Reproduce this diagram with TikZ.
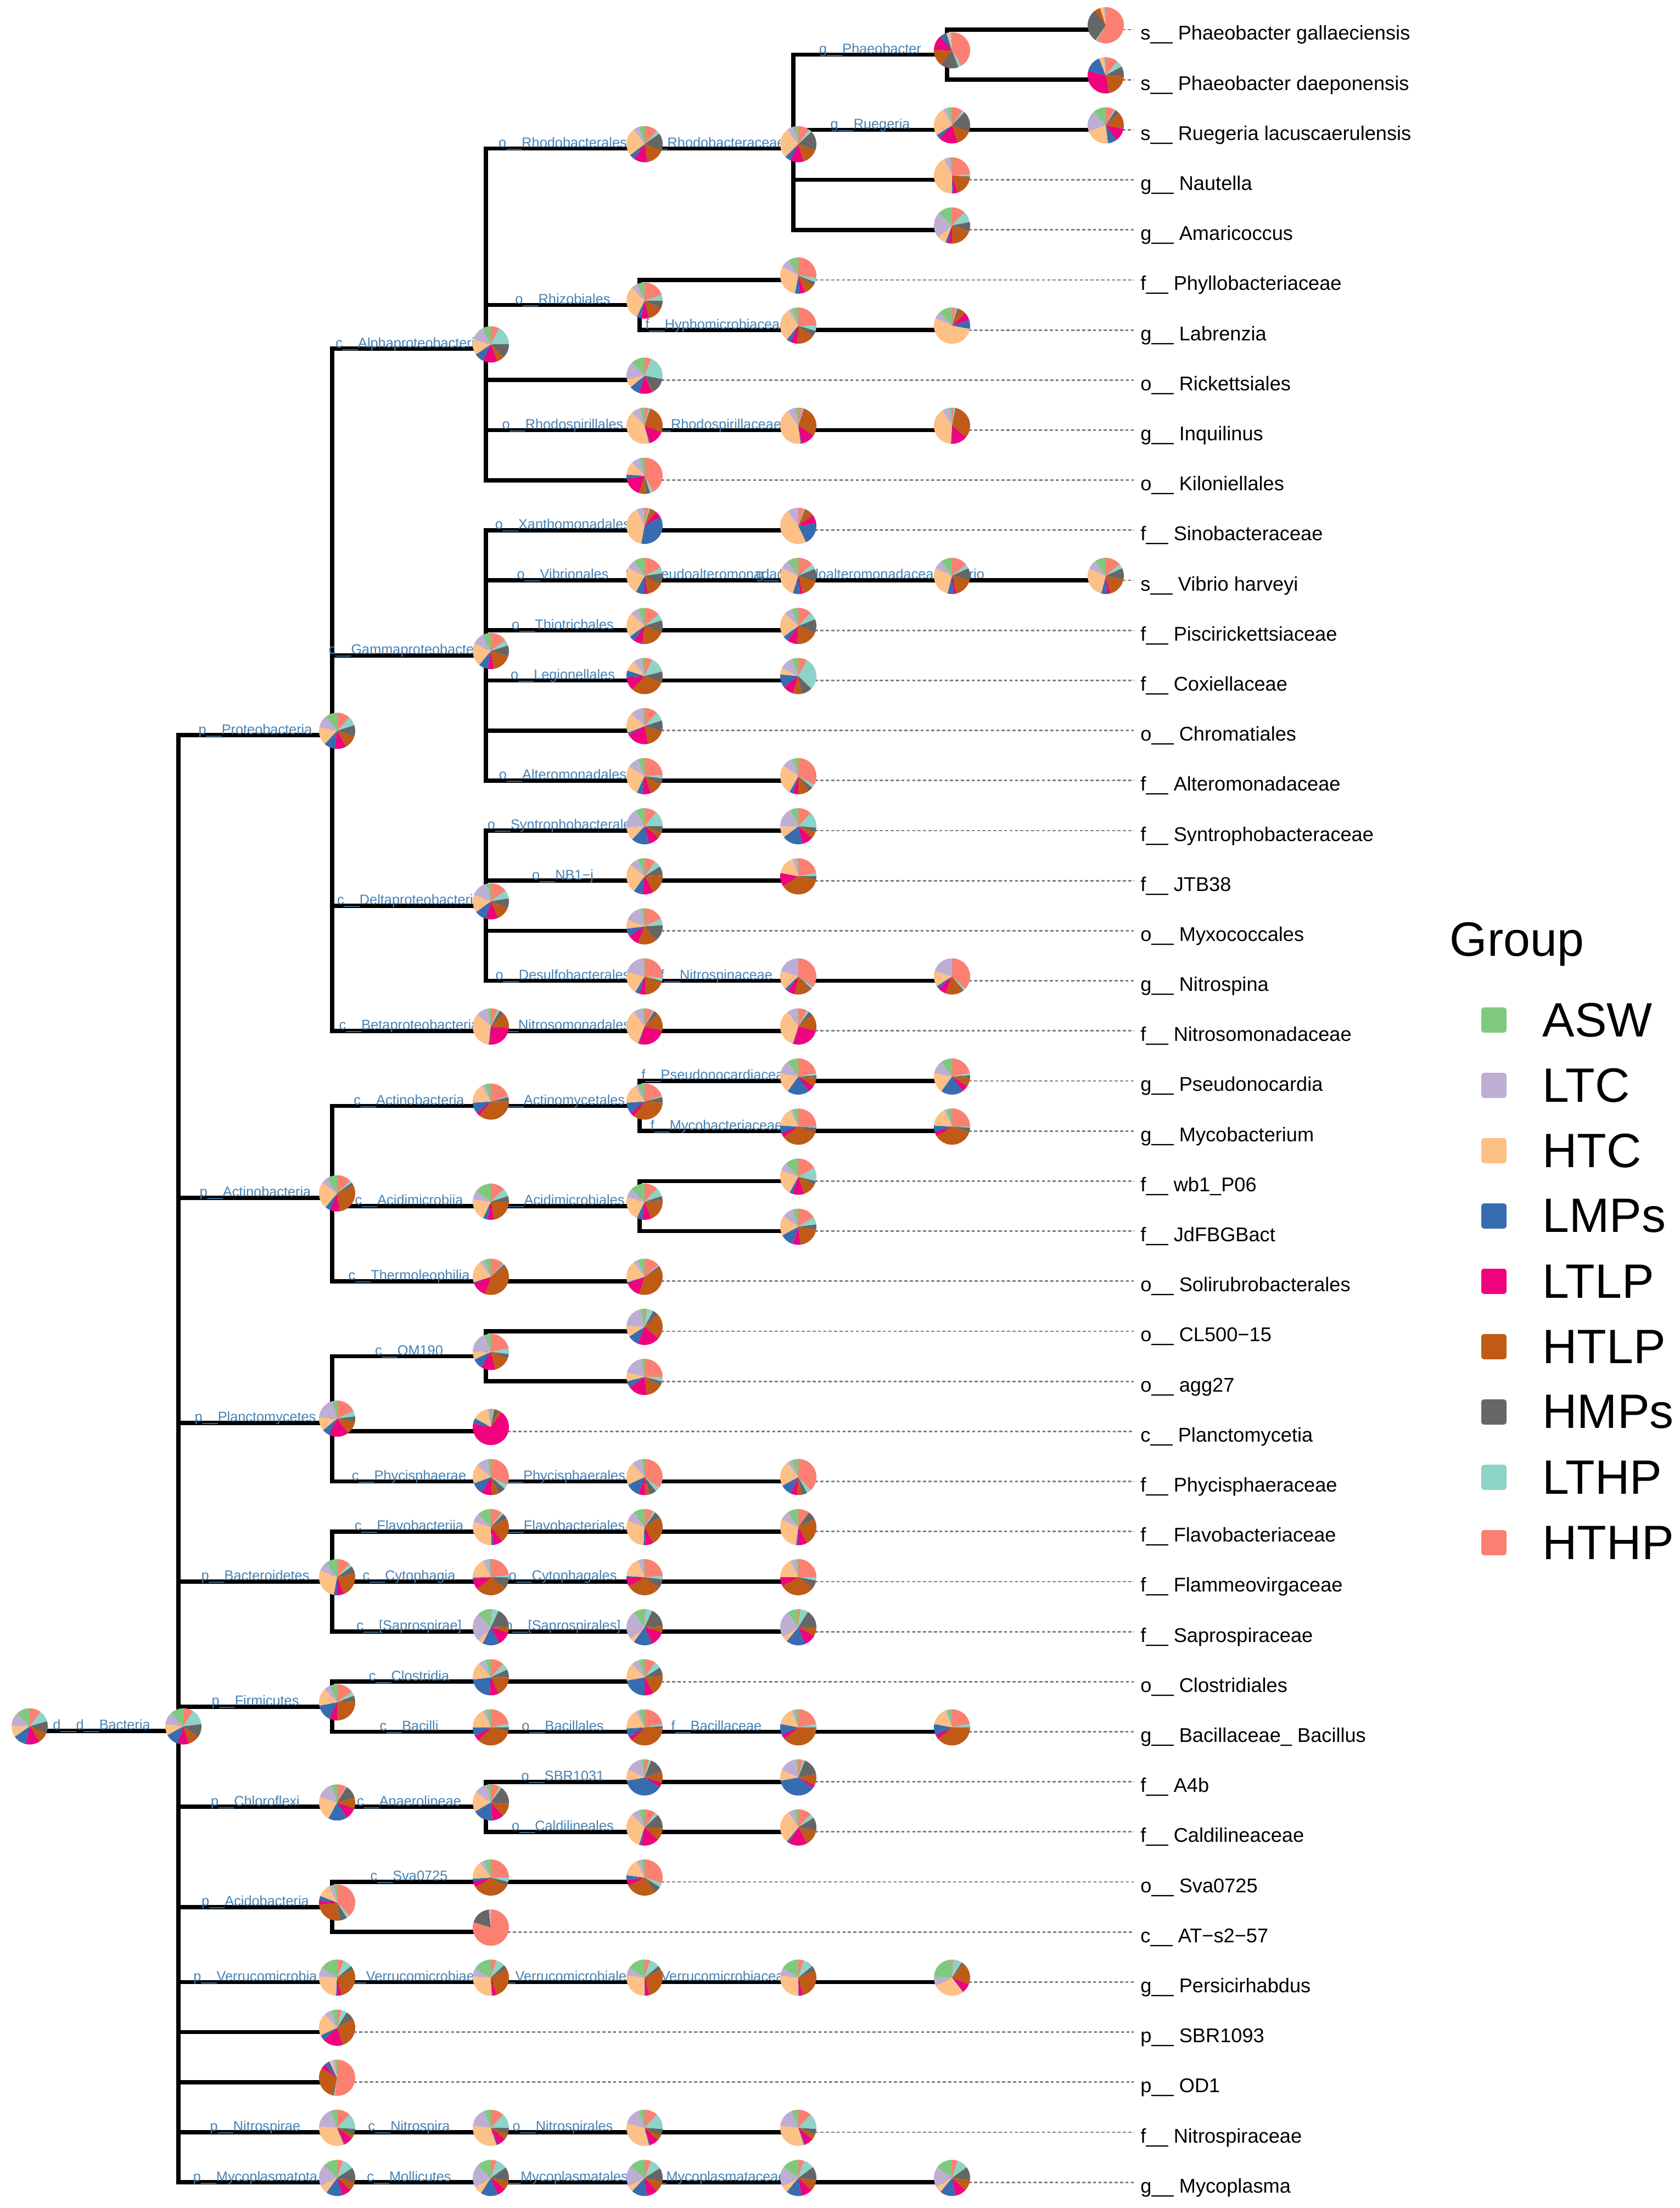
\documentclass[tikz,border=0pt]{standalone}
\usepackage{fontspec}
\setmainfont{Liberation Sans}
\usepackage{xcolor}
\usetikzlibrary{positioning}
\definecolor{asw}{HTML}{7FC97F}
\definecolor{ltc}{HTML}{BEAED4}
\definecolor{htc}{HTML}{FDC086}
\definecolor{lmps}{HTML}{386CB0}
\definecolor{ltlp}{HTML}{F0027F}
\definecolor{htlp}{HTML}{BF5B17}
\definecolor{hmps}{HTML}{666666}
\definecolor{lthp}{HTML}{8DD3C7}
\definecolor{hthp}{HTML}{FB8072}
\definecolor{labblue}{HTML}{4682B4}
\definecolor{tipgray}{HTML}{808080}
% slice order, clockwise from the top
\colorlet{pie1}{hthp}\colorlet{pie2}{lthp}\colorlet{pie3}{hmps}
\colorlet{pie4}{htlp}\colorlet{pie5}{ltlp}\colorlet{pie6}{lmps}
\colorlet{pie7}{htc}\colorlet{pie8}{ltc}\colorlet{pie9}{asw}
\tikzset{
  branch/.style={line width=2.2pt, draw=black},
  blab/.style={pos=0.75, anchor=base, yshift=0.6pt, inner sep=0pt, text=labblue, font=\fontsize{7.2}{8}\selectfont},
  tipline/.style={draw=tipgray, line width=0.8pt, dash pattern=on 1.6pt off 1.2pt},
  tiplab/.style={anchor=base west, xshift=0.11cm, yshift=-0.19cm, inner sep=0pt, font=\fontsize{10.3}{12}\selectfont},
  legkey/.style={minimum size=0.46cm, inner sep=0pt, rounded corners=0.05cm},
  legtext/.style={inner sep=0pt, font=\fontsize{25}{30}\selectfont}
}
% #1 node, #2 HTHP,LTHP,HMPs,HTLP,LTLP,LMPs,HTC,LTC,ASW
\newcommand{\taxpie}[2]{%
  \begin{scope}[shift={(#1)}, xshift=0.09cm, yshift=0.08cm]
    \xdef\pietot{0}
    \foreach \v in {#2} {\pgfmathparse{\pietot+\v}\xdef\pietot{\pgfmathresult}}
    \xdef\pieang{90}
    \foreach \v [count=\i] in {#2} {
      \ifdim \v pt>0pt
        \pgfmathsetmacro{\pienext}{\pieang-360*(\v/\pietot)}
        \fill[pie\i] (0,0) -- (\pieang:0.33) arc[start angle=\pieang, end angle=\pienext, radius=0.33] -- cycle;
        \xdef\pieang{\pienext}
      \fi
    }
  \end{scope}}

\begin{document}
\begin{tikzpicture}
  \useasboundingbox (0,0) rectangle (30.59,-40.22);
  \fill[white] (0,0) rectangle (30.59,-40.22);

  \begin{scope}[y=-0.9119cm, yshift=0.3719cm]
    % tree nodes: x = rank, y = tip index
    \coordinate (rt) at (0.45,34.98);
    \coordinate (bac) at (3.25,34.98);
    \coordinate (tipx) at (20.65,0);
    % phyla
    \coordinate (pPro) at (6.05,15.094);
    \coordinate (pAct) at (6.05,24.333);
    \coordinate (pPla) at (6.05,28.833);
    \coordinate (pBct) at (6.05,32);
    \coordinate (pFir) at (6.05,34.5);
    \coordinate (pChl) at (6.05,36.5);
    \coordinate (pAci) at (6.05,38.5);
    \coordinate (pVer) at (6.05,40);
    \coordinate (pSBR) at (6.05,41);
    \coordinate (pOD1) at (6.05,42);
    \coordinate (pNit) at (6.05,43);
    \coordinate (pMyc) at (6.05,44);
    % classes
    \coordinate (cAlp) at (8.85,7.375);
    \coordinate (cGam) at (8.85,13.5);
    \coordinate (cDel) at (8.85,18.5);
    \coordinate (cBet) at (8.85,21);
    \coordinate (cAct) at (8.85,22.5);
    \coordinate (cAcm) at (8.85,24.5);
    \coordinate (cThe) at (8.85,26);
    \coordinate (cOM1) at (8.85,27.5);
    \coordinate (cPla) at (8.85,29);
    \coordinate (cPhy) at (8.85,30);
    \coordinate (cFla) at (8.85,31);
    \coordinate (cCyt) at (8.85,32);
    \coordinate (cSap) at (8.85,33);
    \coordinate (cClo) at (8.85,34);
    \coordinate (cBac) at (8.85,35);
    \coordinate (cAna) at (8.85,36.5);
    \coordinate (cSva) at (8.85,38);
    \coordinate (cATs) at (8.85,39);
    \coordinate (cVer) at (8.85,40);
    \coordinate (cNit) at (8.85,43);
    \coordinate (cMol) at (8.85,44);
    % orders
    \coordinate (oRhb) at (11.65,3.375);
    \coordinate (oRhz) at (11.65,6.5);
    \coordinate (oRic) at (11.65,8);
    \coordinate (oRsp) at (11.65,9);
    \coordinate (oKil) at (11.65,10);
    \coordinate (oXan) at (11.65,11);
    \coordinate (oVib) at (11.65,12);
    \coordinate (oThi) at (11.65,13);
    \coordinate (oLeg) at (11.65,14);
    \coordinate (oChr) at (11.65,15);
    \coordinate (oAlt) at (11.65,16);
    \coordinate (oSyn) at (11.65,17);
    \coordinate (oNB1) at (11.65,18);
    \coordinate (oMyx) at (11.65,19);
    \coordinate (oDes) at (11.65,20);
    \coordinate (oNso) at (11.65,21);
    \coordinate (oAct) at (11.65,22.5);
    \coordinate (oAcm) at (11.65,24.5);
    \coordinate (oSol) at (11.65,26);
    \coordinate (oCL5) at (11.65,27);
    \coordinate (oAgg) at (11.65,28);
    \coordinate (oPhy) at (11.65,30);
    \coordinate (oFla) at (11.65,31);
    \coordinate (oCyt) at (11.65,32);
    \coordinate (oSap) at (11.65,33);
    \coordinate (oClo) at (11.65,34);
    \coordinate (oBac) at (11.65,35);
    \coordinate (oSBR) at (11.65,36);
    \coordinate (oCal) at (11.65,37);
    \coordinate (oSva) at (11.65,38);
    \coordinate (oVer) at (11.65,40);
    \coordinate (oNit) at (11.65,43);
    \coordinate (oMyp) at (11.65,44);
    % families
    \coordinate (fRhb) at (14.45,3.375);
    \coordinate (fPhb) at (14.45,6);
    \coordinate (fHyp) at (14.45,7);
    \coordinate (fRsp) at (14.45,9);
    \coordinate (fSin) at (14.45,11);
    \coordinate (fPse) at (14.45,12);
    \coordinate (fPis) at (14.45,13);
    \coordinate (fCox) at (14.45,14);
    \coordinate (fAlt) at (14.45,16);
    \coordinate (fSyn) at (14.45,17);
    \coordinate (fJTB) at (14.45,18);
    \coordinate (fNsp) at (14.45,20);
    \coordinate (fNso) at (14.45,21);
    \coordinate (fPsn) at (14.45,22);
    \coordinate (fMyc) at (14.45,23);
    \coordinate (fWb1) at (14.45,24);
    \coordinate (fJdf) at (14.45,25);
    \coordinate (fPhc) at (14.45,30);
    \coordinate (fFla) at (14.45,31);
    \coordinate (fFlm) at (14.45,32);
    \coordinate (fSap) at (14.45,33);
    \coordinate (fBac) at (14.45,35);
    \coordinate (fA4b) at (14.45,36);
    \coordinate (fCal) at (14.45,37);
    \coordinate (fVer) at (14.45,40);
    \coordinate (fNit) at (14.45,43);
    \coordinate (fMyp) at (14.45,44);
    % genera and species
    \coordinate (gPha) at (17.25,1.5);
    \coordinate (gRue) at (17.25,3);
    \coordinate (gNau) at (17.25,4);
    \coordinate (gAma) at (17.25,5);
    \coordinate (gLab) at (17.25,7);
    \coordinate (gInq) at (17.25,9);
    \coordinate (gVib) at (17.25,12);
    \coordinate (gNsp) at (17.25,20);
    \coordinate (gPsn) at (17.25,22);
    \coordinate (gMyc) at (17.25,23);
    \coordinate (gBac) at (17.25,35);
    \coordinate (gPer) at (17.25,40);
    \coordinate (gMyp) at (17.25,44);
    \coordinate (sPga) at (20.05,1);
    \coordinate (sPda) at (20.05,2);
    \coordinate (sRla) at (20.05,3);
    \coordinate (sVha) at (20.05,12);

    % branches with their labels
    \foreach \a/\b/\t in {rt/bac/{d\_\_d\_\_Bacteria},
        bac/pPro/{p\_\_Proteobacteria}, bac/pAct/{p\_\_Actinobacteria}, bac/pPla/{p\_\_Planctomycetes},
        bac/pBct/{p\_\_Bacteroidetes}, bac/pFir/{p\_\_Firmicutes}, bac/pChl/{p\_\_Chloroflexi},
        bac/pAci/{p\_\_Acidobacteria}, bac/pVer/{p\_\_Verrucomicrobia}, bac/pSBR/{}, bac/pOD1/{},
        bac/pNit/{p\_\_Nitrospirae}, bac/pMyc/{p\_\_Mycoplasmatota},
        pPro/cAlp/{c\_\_Alphaproteobacteria}, pPro/cGam/{c\_\_Gammaproteobacteria},
        pPro/cDel/{c\_\_Deltaproteobacteria}, pPro/cBet/{c\_\_Betaproteobacteria},
        cAlp/oRhb/{o\_\_Rhodobacterales}, cAlp/oRhz/{o\_\_Rhizobiales}, cAlp/oRic/{},
        cAlp/oRsp/{o\_\_Rhodospirillales}, cAlp/oKil/{},
        oRhb/fRhb/{f\_\_Rhodobacteraceae}, fRhb/gPha/{g\_\_Phaeobacter}, fRhb/gRue/{g\_\_Ruegeria},
        fRhb/gNau/{}, fRhb/gAma/{}, gPha/sPga/{}, gPha/sPda/{}, gRue/sRla/{},
        oRhz/fPhb/{}, oRhz/fHyp/{f\_\_Hyphomicrobiaceae}, fHyp/gLab/{},
        oRsp/fRsp/{f\_\_Rhodospirillaceae}, fRsp/gInq/{},
        cGam/oXan/{o\_\_Xanthomonadales}, oXan/fSin/{},
        cGam/oVib/{o\_\_Vibrionales}, oVib/fPse/{f\_\_Pseudoalteromonadaceae},
        fPse/gVib/{g\_\_Pseudoalteromonadaceae\_Vibrio}, gVib/sVha/{},
        cGam/oThi/{o\_\_Thiotrichales}, oThi/fPis/{}, cGam/oLeg/{o\_\_Legionellales}, oLeg/fCox/{},
        cGam/oChr/{}, cGam/oAlt/{o\_\_Alteromonadales}, oAlt/fAlt/{},
        cDel/oSyn/{o\_\_Syntrophobacterales}, oSyn/fSyn/{}, cDel/oNB1/{o\_\_NB1−j}, oNB1/fJTB/{},
        cDel/oMyx/{}, cDel/oDes/{o\_\_Desulfobacterales}, oDes/fNsp/{f\_\_Nitrospinaceae}, fNsp/gNsp/{},
        cBet/oNso/{o\_\_Nitrosomonadales}, oNso/fNso/{},
        pAct/cAct/{c\_\_Actinobacteria}, cAct/oAct/{o\_\_Actinomycetales},
        oAct/fPsn/{f\_\_Pseudonocardiaceae}, fPsn/gPsn/{}, oAct/fMyc/{f\_\_Mycobacteriaceae}, fMyc/gMyc/{},
        pAct/cAcm/{c\_\_Acidimicrobiia}, cAcm/oAcm/{o\_\_Acidimicrobiales}, oAcm/fWb1/{}, oAcm/fJdf/{},
        pAct/cThe/{c\_\_Thermoleophilia}, cThe/oSol/{},
        pPla/cOM1/{c\_\_OM190}, cOM1/oCL5/{}, cOM1/oAgg/{}, pPla/cPla/{},
        pPla/cPhy/{c\_\_Phycisphaerae}, cPhy/oPhy/{o\_\_Phycisphaerales}, oPhy/fPhc/{},
        pBct/cFla/{c\_\_Flavobacteriia}, cFla/oFla/{o\_\_Flavobacteriales}, oFla/fFla/{},
        pBct/cCyt/{c\_\_Cytophagia}, cCyt/oCyt/{o\_\_Cytophagales}, oCyt/fFlm/{},
        pBct/cSap/{c\_\_[Saprospirae]}, cSap/oSap/{o\_\_[Saprospirales]}, oSap/fSap/{},
        pFir/cClo/{c\_\_Clostridia}, cClo/oClo/{},
        pFir/cBac/{c\_\_Bacilli}, cBac/oBac/{o\_\_Bacillales}, oBac/fBac/{f\_\_Bacillaceae}, fBac/gBac/{},
        pChl/cAna/{c\_\_Anaerolineae}, cAna/oSBR/{o\_\_SBR1031}, oSBR/fA4b/{},
        cAna/oCal/{o\_\_Caldilineales}, oCal/fCal/{},
        pAci/cSva/{c\_\_Sva0725}, cSva/oSva/{}, pAci/cATs/{},
        pVer/cVer/{c\_\_Verrucomicrobiae}, cVer/oVer/{o\_\_Verrucomicrobiales},
        oVer/fVer/{f\_\_Verrucomicrobiaceae}, fVer/gPer/{},
        pNit/cNit/{c\_\_Nitrospira}, cNit/oNit/{o\_\_Nitrospirales}, oNit/fNit/{},
        pMyc/cMol/{c\_\_Mollicutes}, cMol/oMyp/{o\_\_Mycoplasmatales},
        oMyp/fMyp/{f\_\_Mycoplasmataceae}, fMyp/gMyp/{}}
      \draw[branch] (\a) |- (\b) node[blab] {\t};

    % tip labels
    \foreach \n/\t in {sPga/{s\_\_ Phaeobacter gallaeciensis}, sPda/{s\_\_ Phaeobacter daeponensis},
        sRla/{s\_\_ Ruegeria lacuscaerulensis}, gNau/{g\_\_ Nautella}, gAma/{g\_\_ Amaricoccus},
        fPhb/{f\_\_ Phyllobacteriaceae}, gLab/{g\_\_ Labrenzia}, oRic/{o\_\_ Rickettsiales},
        gInq/{g\_\_ Inquilinus}, oKil/{o\_\_ Kiloniellales}, fSin/{f\_\_ Sinobacteraceae},
        sVha/{s\_\_ Vibrio harveyi}, fPis/{f\_\_ Piscirickettsiaceae}, fCox/{f\_\_ Coxiellaceae},
        oChr/{o\_\_ Chromatiales}, fAlt/{f\_\_ Alteromonadaceae}, fSyn/{f\_\_ Syntrophobacteraceae},
        fJTB/{f\_\_ JTB38}, oMyx/{o\_\_ Myxococcales}, gNsp/{g\_\_ Nitrospina},
        fNso/{f\_\_ Nitrosomonadaceae}, gPsn/{g\_\_ Pseudonocardia}, gMyc/{g\_\_ Mycobacterium},
        fWb1/{f\_\_ wb1\_P06}, fJdf/{f\_\_ JdFBGBact}, oSol/{o\_\_ Solirubrobacterales},
        oCL5/{o\_\_ CL500−15}, oAgg/{o\_\_ agg27}, cPla/{c\_\_ Planctomycetia},
        fPhc/{f\_\_ Phycisphaeraceae}, fFla/{f\_\_ Flavobacteriaceae}, fFlm/{f\_\_ Flammeovirgaceae},
        fSap/{f\_\_ Saprospiraceae}, oClo/{o\_\_ Clostridiales}, gBac/{g\_\_ Bacillaceae\_ Bacillus},
        fA4b/{f\_\_ A4b}, fCal/{f\_\_ Caldilineaceae}, oSva/{o\_\_ Sva0725}, cATs/{c\_\_ AT−s2−57},
        gPer/{g\_\_ Persicirhabdus}, pSBR/{p\_\_ SBR1093}, pOD1/{p\_\_ OD1},
        fNit/{f\_\_ Nitrospiraceae}, gMyp/{g\_\_ Mycoplasma}}
      \draw[tipline] (\n) -- (\n -| tipx) node[tiplab] (t\n) {\t};
  \end{scope}

  % pies
  \taxpie{rt}{10,10,10,10,12,12,10,12,12}
  \taxpie{bac}{9,14,12,10,10,12,10,11,12}
  \taxpie{pPro}{12,8,10,12,10,10,16,12,10}
  \taxpie{cAlp}{7,16,12,6,12,8,13,12,7}
  \taxpie{oRhb}{12,3,15,17,12,5,25,5,5}
  \taxpie{fRhb}{10,3,17,15,12,5,27,6,4}
  \taxpie{gPha}{40,3,15,15,13,6,3,1,1}
  \taxpie{sPga}{58,1,30,5,0,0,3,1,1}
  \taxpie{sPda}{11,6,9,21,32,15,4,1,1}
  \taxpie{gRue}{10,2,18,15,17,4,26,4,4}
  \taxpie{sRla}{8,1,4,15,12,8,22,18,12}
  \taxpie{gNau}{24,2,1,18,4,1,43,5,2}
  \taxpie{gAma}{12,10,8,20,4,2,8,23,13}
  \taxpie{oRhz}{20,5,7,14,7,4,31,6,6}
  \taxpie{fPhb}{27,4,3,10,5,4,30,8,9}
  \taxpie{fHyp}{25,5,5,16,6,4,30,3,6}
  \taxpie{gLab}{4,1,2,6,7,8,54,6,12}
  \taxpie{oRic}{6,22,14,1,12,9,8,16,12}
  \taxpie{oRsp}{4,1,1,25,14,1,42,8,4}
  \taxpie{fRsp}{4,1,1,28,13,1,42,7,3}
  \taxpie{gInq}{2,1,1,32,14,1,40,7,2}
  \taxpie{oKil}{42,3,4,6,17,4,12,8,4}
  \taxpie{cGam}{14,5,9,17,5,8,20,10,7}
  \taxpie{oXan}{4,1,1,5,6,36,40,6,1}
  \taxpie{fSin}{5,1,1,8,8,20,47,10,0}
  \taxpie{oVib}{18,5,10,15,3,8,25,8,10}
  \taxpie{fPse}{14,5,11,17,3,6,28,8,10}
  \taxpie{gVib}{14,4,10,18,3,5,28,8,10}
  \taxpie{sVha}{14,4,10,18,3,5,28,8,10}
  \taxpie{oThi}{14,6,10,22,8,5,22,7,6}
  \taxpie{fPis}{12,7,12,20,9,5,22,7,6}
  \taxpie{oLeg}{7,14,9,32,12,6,10,7,3}
  \taxpie{fCox}{8,30,10,8,10,12,6,12,6}
  \taxpie{oChr}{12,8,10,17,20,2,18,11,2}
  \taxpie{oAlt}{24,3,5,12,8,5,27,10,6}
  \taxpie{fAlt}{33,3,4,10,5,3,27,10,5}
  \taxpie{cDel}{14,7,8,12,10,10,15,15,3}
  \taxpie{oSyn}{11,14,5,6,10,16,12,18,8}
  \taxpie{fSyn}{12,14,4,6,10,18,10,18,7}
  \taxpie{oNB1}{10,6,8,18,10,8,26,8,6}
  \taxpie{fJTB}{22,3,3,38,12,0,17,4,1}
  \taxpie{oMyx}{18,6,15,17,10,7,8,16,3}
  \taxpie{oDes}{26,3,1,18,6,4,20,20,1}
  \taxpie{fNsp}{35,2,2,14,7,3,17,20,0}
  \taxpie{gNsp}{37,2,1,16,7,3,14,20,0}
  \taxpie{cBet}{6,2,4,14,24,1,34,10,3}
  \taxpie{oNso}{8,1,4,16,26,1,34,8,2}
  \taxpie{fNso}{8,2,4,15,25,1,35,9,1}
  \taxpie{pAct}{13,2,3,30,8,5,24,6,9}
  \taxpie{cAct}{20,1,4,36,3,10,18,3,5}
  \taxpie{oAct}{20,1,5,34,4,10,18,3,5}
  \taxpie{fPsn}{22,2,2,8,6,20,18,12,10}
  \taxpie{gPsn}{22,2,2,8,6,20,18,12,10}
  \taxpie{fMyc}{25,1,4,35,4,7,17,2,5}
  \taxpie{gMyc}{25,1,4,36,4,6,17,2,5}
  \taxpie{cAcm}{13,7,5,22,6,4,20,8,15}
  \taxpie{oAcm}{12,8,4,20,8,5,22,8,13}
  \taxpie{fWb1}{17,12,3,13,10,3,23,7,12}
  \taxpie{fJdf}{16,7,5,20,7,12,18,10,5}
  \taxpie{cThe}{12,1,2,40,14,1,20,4,6}
  \taxpie{oSol}{14,1,2,38,14,1,20,4,6}
  \taxpie{pPla}{18,5,5,12,17,7,12,20,4}
  \taxpie{cOM1}{22,5,4,15,13,9,7,20,5}
  \taxpie{oCL5}{2,6,5,23,20,10,10,20,4}
  \taxpie{oAgg}{25,4,4,15,17,6,8,18,3}
  \taxpie{cPla}{2,1,4,3,68,5,14,2,1}
  \taxpie{cPhy}{30,4,6,6,9,10,16,10,3}
  \taxpie{oPhy}{34,4,6,4,6,12,20,8,3}
  \taxpie{fPhc}{38,4,5,4,6,10,23,4,6}
  \taxpie{pBct}{12,3,7,22,6,3,28,9,10}
  \taxpie{cFla}{10,2,5,22,8,2,30,8,12}
  \taxpie{oFla}{8,2,6,26,7,2,30,9,10}
  \taxpie{fFla}{10,0,8,24,8,2,30,8,10}
  \taxpie{cCyt}{23,2,10,28,10,1,18,5,2}
  \taxpie{oCyt}{24,3,8,32,8,1,18,5,1}
  \taxpie{fFlm}{25,3,7,32,8,0,18,5,2}
  \taxpie{cSap}{1,6,17,6,12,15,4,26,12}
  \taxpie{oSap}{1,6,17,6,13,17,4,26,10}
  \taxpie{fSap}{2,7,16,8,11,17,5,24,10}
  \taxpie{pFir}{15,4,5,26,7,15,16,6,6}
  \taxpie{cClo}{12,6,7,18,8,22,16,6,5}
  \taxpie{oClo}{10,6,8,18,8,22,16,7,5}
  \taxpie{cBac}{22,3,3,34,5,8,18,3,4}
  \taxpie{oBac}{22,2,2,36,4,8,18,3,5}
  \taxpie{fBac}{22,3,1,38,4,10,16,2,4}
  \taxpie{gBac}{22,3,1,38,4,10,16,2,4}
  \taxpie{pChl}{8,1,12,10,10,17,22,15,5}
  \taxpie{cAna}{8,2,16,12,10,18,18,12,3}
  \taxpie{oSBR}{4,2,14,10,4,38,10,15,3}
  \taxpie{fA4b}{4,2,16,10,3,37,10,16,2}
  \taxpie{oCal}{10,3,12,12,16,2,33,7,5}
  \taxpie{fCal}{12,4,12,14,17,2,30,5,4}
  \taxpie{pAci}{38,3,7,25,4,4,12,4,3}
  \taxpie{cSva}{25,4,4,33,5,3,16,4,6}
  \taxpie{oSva}{30,4,6,28,5,4,16,4,3}
  \taxpie{cATs}{80,0,18,0.5,0,0,1,0.5,0}
  \taxpie{pVer}{6,8,4,28,4,1,25,8,16}
  \taxpie{cVer}{5,8,4,28,4,0.5,27,7,17}
  \taxpie{oVer}{5,9,4,28,4,0.5,27,7,16}
  \taxpie{fVer}{5,9,5,27,4,0.5,27,7,16}
  \taxpie{gPer}{1,8,2,20,8,0.5,28,8,24}
  \taxpie{pSBR}{4,5,8,28,18,5,20,7,5}
  \taxpie{pOD1}{52,1,1,30,4,5,3,2,2}
  \taxpie{pNit}{12,14,5,4,8,1,32,18,6}
  \taxpie{cNit}{12,13,5,6,8,1,32,17,6}
  \taxpie{oNit}{12,14,6,5,8,1,33,16,5}
  \taxpie{fNit}{12,14,5,5,8,1,32,17,6}
  \taxpie{pMyc}{5,10,12,8,8,14,8,18,12}
  \taxpie{cMol}{5,10,12,8,8,15,7,20,13}
  \taxpie{oMyp}{6,10,12,10,10,14,6,18,14}
  \taxpie{fMyp}{5,10,12,10,10,14,6,18,15}
  \taxpie{gMyp}{5,10,12,10,10,14,6,18,15}

  % legend
  \node[legtext, anchor=base west] (legtitle) at (26.40,-17.41) {Group};
  \foreach \c/\g [count=\k] in {asw/ASW, ltc/LTC, htc/HTC, lmps/LMPs, ltlp/LTLP, htlp/HTLP, hmps/HMPs, lthp/LTHP, hthp/HTHP} {
    \node[legkey, fill=\c] (key\k) at (27.21,{-18.58-1.19*(\k-1)}) {};
    \node[legtext, right=0.64cm of key\k] (leg\k) {\g};
  }
\end{tikzpicture}
\end{document}
